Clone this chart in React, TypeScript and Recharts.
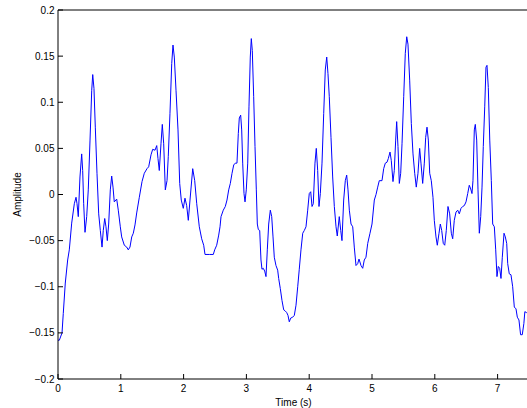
import React from 'react';
import { LineChart, Line, XAxis, YAxis, Label } from 'recharts';

const timeS: number[] = [
  0, 0.021, 0.064, 0.084, 0.116, 0.154, 0.18, 0.218, 0.26, 0.287, 0.303, 0.323, 0.35, 0.377, 0.393, 0.409,
  0.43, 0.457, 0.482, 0.51, 0.537, 0.553, 0.573, 0.594, 0.621, 0.648, 0.674, 0.701, 0.721, 0.744, 0.764,
  0.785, 0.807, 0.833, 0.855, 0.876, 0.896, 0.935, 0.96, 0.992, 1.014, 1.056, 1.094, 1.119, 1.146, 1.174,
  1.199, 1.226, 1.253, 1.295, 1.338, 1.374, 1.417, 1.444, 1.481, 1.508, 1.545, 1.572, 1.592, 1.613, 1.64,
  1.661, 1.683, 1.709, 1.736, 1.756, 1.783, 1.811, 1.831, 1.852, 1.879, 1.911, 1.938, 1.963, 1.995, 2.022,
  2.049, 2.075, 2.102, 2.145, 2.177, 2.209, 2.25, 2.288, 2.32, 2.341, 2.409, 2.473, 2.495, 2.527, 2.559,
  2.58, 2.596, 2.632, 2.664, 2.691, 2.718, 2.744, 2.771, 2.798, 2.823, 2.85, 2.871, 2.887, 2.909, 2.925,
  2.941, 2.962, 2.978, 2.998, 3.021, 3.041, 3.062, 3.078, 3.094, 3.116, 3.137, 3.158, 3.174, 3.19, 3.212,
  3.232, 3.248, 3.269, 3.291, 3.312, 3.333, 3.355, 3.381, 3.403, 3.424, 3.444, 3.471, 3.498, 3.514, 3.54,
  3.567, 3.594, 3.615, 3.642, 3.662, 3.683, 3.705, 3.737, 3.763, 3.79, 3.817, 3.842, 3.869, 3.897, 3.922,
  3.949, 3.976, 4.001, 4.024, 4.045, 4.065, 4.092, 4.113, 4.135, 4.156, 4.177, 4.204, 4.231, 4.256, 4.279,
  4.299, 4.32, 4.347, 4.374, 4.4, 4.427, 4.447, 4.479, 4.502, 4.522, 4.549, 4.575, 4.597, 4.618, 4.639,
  4.666, 4.693, 4.718, 4.745, 4.772, 4.793, 4.825, 4.852, 4.877, 4.904, 4.932, 4.968, 5.0, 5.037, 5.064,
  5.091, 5.116, 5.159, 5.186, 5.212, 5.239, 5.26, 5.287, 5.307, 5.334, 5.355, 5.377, 5.393, 5.414, 5.435,
  5.457, 5.478, 5.505, 5.53, 5.553, 5.573, 5.6, 5.626, 5.653, 5.68, 5.705, 5.732, 5.759, 5.78, 5.807,
  5.833, 5.855, 5.876, 5.897, 5.919, 5.944, 5.971, 5.992, 6.019, 6.04, 6.067, 6.088, 6.11, 6.135, 6.158,
  6.183, 6.21, 6.237, 6.263, 6.285, 6.31, 6.338, 6.365, 6.39, 6.417, 6.444, 6.47, 6.497, 6.524, 6.549,
  6.572, 6.592, 6.608, 6.629, 6.645, 6.667, 6.688, 6.709, 6.731, 6.752, 6.772, 6.795, 6.815, 6.831, 6.852,
  6.875, 6.9, 6.922, 6.948, 6.97, 6.99, 7.011, 7.033, 7.054, 7.075, 7.102, 7.123, 7.145, 7.161, 7.186,
  7.213, 7.24, 7.266, 7.293, 7.314, 7.34, 7.366, 7.393, 7.418, 7.434, 7.46, 7.5,
];

const amplitude: number[] = [
  -0.158, -0.158, -0.15, -0.129, -0.096, -0.071, -0.06, -0.031, -0.01, -0.003, -0.01, -0.024, 0.019, 0.044, 0.026, -0.01,
  -0.041, -0.024, 0.005, 0.059, 0.113, 0.13, 0.115, 0.073, 0.023, -0.021, -0.039, -0.057, -0.039, -0.026, -0.035,
  -0.05, -0.032, 0.005, 0.02, 0.008, -0.008, -0.005, -0.017, -0.035, -0.046, -0.055, -0.057, -0.06, -0.057, -0.046,
  -0.042, -0.033, -0.02, -0.003, 0.014, 0.023, 0.028, 0.03, 0.043, 0.049, 0.048, 0.053, 0.039, 0.026, 0.055,
  0.076, 0.055, 0.005, 0.015, 0.041, 0.088, 0.142, 0.162, 0.149, 0.113, 0.07, 0.012, -0.006, -0.015, -0.004,
  -0.012, -0.028, -0.006, 0.028, 0.015, -0.01, -0.035, -0.048, -0.055, -0.065, -0.065, -0.065, -0.06, -0.055, -0.044,
  -0.035, -0.024, -0.017, -0.013, -0.006, 0.005, 0.012, 0.023, 0.032, 0.034, 0.034, 0.066, 0.083, 0.086, 0.07,
  0.034, 0.001, -0.008, 0.005, 0.034, 0.095, 0.149, 0.169, 0.156, 0.106, 0.052, 0.005, -0.032, -0.038, -0.039,
  -0.071, -0.081, -0.08, -0.083, -0.089, -0.06, -0.032, -0.017, -0.024, -0.046, -0.068, -0.077, -0.082, -0.091, -0.102,
  -0.115, -0.125, -0.126, -0.128, -0.131, -0.138, -0.134, -0.133, -0.131, -0.12, -0.1, -0.081, -0.06, -0.042, -0.039,
  -0.035, -0.017, 0.001, 0.003, -0.013, -0.01, 0.034, 0.05, 0.026, -0.013, 0.001, 0.034, 0.088, 0.135, 0.149,
  0.131, 0.106, 0.062, 0.019, -0.013, -0.035, -0.045, -0.024, -0.039, -0.05, -0.006, 0.015, 0.021, 0.005, -0.017,
  -0.032, -0.035, -0.057, -0.077, -0.075, -0.07, -0.077, -0.08, -0.071, -0.068, -0.053, -0.042, -0.032, -0.006, 0.0,
  0.008, 0.015, 0.015, 0.028, 0.034, 0.035, 0.039, 0.046, 0.037, 0.014, 0.026, 0.059, 0.079, 0.052, 0.012,
  0.023, 0.055, 0.106, 0.153, 0.171, 0.163, 0.124, 0.077, 0.044, 0.023, 0.008, 0.023, 0.05, 0.034, 0.012,
  0.034, 0.062, 0.073, 0.059, 0.023, 0.015, -0.003, -0.028, -0.046, -0.055, -0.042, -0.032, -0.039, -0.053, -0.055,
  -0.039, -0.013, -0.021, -0.042, -0.048, -0.028, -0.019, -0.017, -0.021, -0.015, -0.013, -0.012, -0.008, 0.001, 0.01,
  0.006, 0.001, 0.015, 0.07, 0.076, 0.059, 0.005, -0.042, -0.024, 0.008, 0.052, 0.095, 0.138, 0.14, 0.116,
  0.059, 0.015, -0.032, -0.035, -0.06, -0.089, -0.078, -0.08, -0.091, -0.068, -0.042, -0.046, -0.053, -0.075, -0.086,
  -0.087, -0.1, -0.122, -0.124, -0.133, -0.136, -0.152, -0.152, -0.14, -0.127, -0.128, -0.128,
];

const xTicks: number[] = [0, 1, 2, 3, 4, 5, 6, 7];
const yTicks: number[] = [-0.2, -0.15, -0.1, -0.05, 0, 0.05, 0.1, 0.15, 0.2];

const data = timeS.map((t, i) => ({ t, a: amplitude[i] }));

const fmtY = (v: number) => {
  const r = Math.round(v * 100) / 100;
  if (r === 0) return '0';
  const s = String(Math.abs(r));
  return r < 0 ? '\u2212' + s : s;
};

const FONT = 'Liberation Sans, Arial, sans-serif';
const tickFont = { fontFamily: FONT, fontSize: 10, fill: '#000' };

export default function App() {
  return (
    <div
      style={{
        position: 'fixed',
        left: 0,
        top: 0,
        width: 527,
        height: 408,
        overflow: 'hidden',
        background: '#fff',
      }}
    >
      <LineChart width={540} height={408} data={data} margin={{ top: 0, right: 0, bottom: 0, left: 0 }}>
        <XAxis
          dataKey="t"
          type="number"
          domain={[0, 7.5]}
          ticks={xTicks}
          allowDataOverflow
          height={29}
          axisLine={{ stroke: '#000', strokeWidth: 1 }}
          tickLine={{ stroke: '#000' }}
          tickSize={-5}
          tickMargin={11}
          tick={tickFont}
          interval={0}
        >
          <Label value="Time (s)" position="insideBottom" offset={2} style={{ fontFamily: FONT, fontSize: 10, fill: '#000' }} />
        </XAxis>
        <XAxis
          xAxisId="top"
          dataKey="t"
          orientation="top"
          type="number"
          domain={[0, 7.5]}
          ticks={xTicks}
          allowDataOverflow
          height={10}
          axisLine={{ stroke: '#000', strokeWidth: 1 }}
          tickLine={{ stroke: '#000' }}
          tickSize={-5}
          tick={false}
          interval={0}
        />
        <YAxis
          type="number"
          domain={[-0.2, 0.2]}
          ticks={yTicks}
          allowDataOverflow
          width={58}
          axisLine={{ stroke: '#000', strokeWidth: 1 }}
          tickLine={{ stroke: '#000' }}
          tickSize={-5}
          tickMargin={8.5}
          tick={tickFont}
          tickFormatter={fmtY}
          interval={0}
        >
          <Label
            content={(props: any) => {
              const vb = props.viewBox || {};
              const cx = (vb.x ?? 0) + 17;
              const cy = (vb.y ?? 0) + (vb.height ?? 0) / 2;
              return (
                <text
                  x={cx}
                  y={cy}
                  transform={`rotate(-90, ${cx}, ${cy})`}
                  textAnchor="middle"
                  dominantBaseline="central"
                  style={{ fontFamily: FONT, fontSize: 10, fill: '#000' }}
                >
                  Amplitude
                </text>
              );
            }}
          />
        </YAxis>
        <YAxis
          yAxisId="right"
          orientation="right"
          type="number"
          domain={[-0.2, 0.2]}
          ticks={yTicks}
          allowDataOverflow
          width={11}
          axisLine={{ stroke: '#000', strokeWidth: 1 }}
          tickLine={{ stroke: '#000' }}
          tickSize={-5}
          tick={false}
          interval={0}
        />
        <Line
          xAxisId="top"
          yAxisId="right"
          type="linear"
          dataKey="a"
          stroke="none"
          strokeOpacity={0}
          dot={false}
          activeDot={false}
          legendType="none"
          isAnimationActive={false}
        />
        <Line
          type="linear"
          dataKey="a"
          stroke="#0000ff"
          strokeWidth={1}
          dot={false}
          activeDot={false}
          isAnimationActive={false}
        />
      </LineChart>
    </div>
  );
}
